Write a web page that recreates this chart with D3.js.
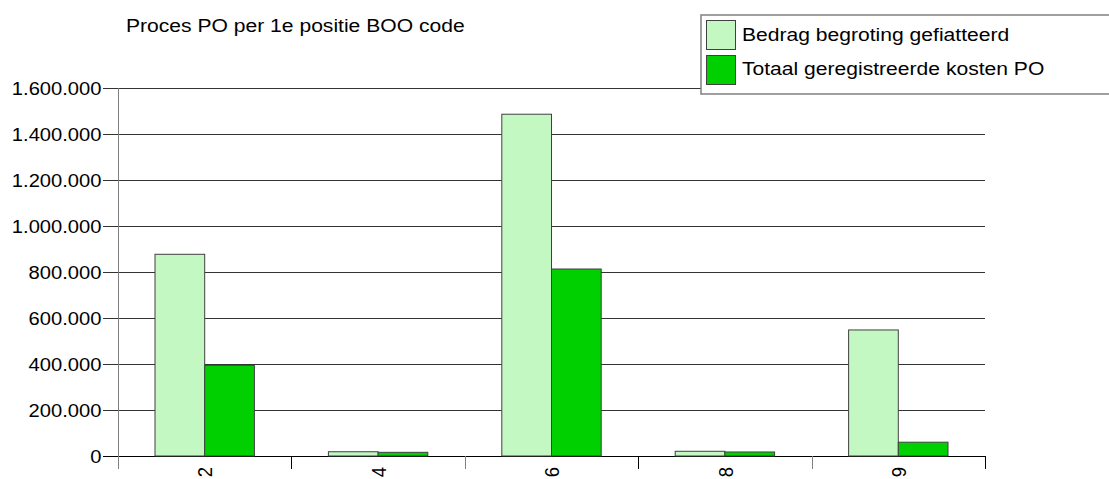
<!DOCTYPE html>
<html><head><meta charset="utf-8">
<script src="https://cdn.jsdelivr.net/npm/d3@7"></script>
<style>html,body{margin:0;padding:0;background:#fff;overflow:hidden}svg{display:block}text{font-family:"Liberation Sans",Arial,sans-serif;fill:#000}</style>
</head><body><svg id="c" width="1109" height="479"></svg>
<script>
const categories = ["2", "4", "6", "8", "9"];
const seriesNames = ["Bedrag begroting gefiatteerd", "Totaal geregistreerde kosten PO"];
const budget = [877000, 18500, 1486000, 20500, 548000];
const costs = [394000, 16000, 813000, 17500, 60000];
const yTicks = [0, 200000, 400000, 600000, 800000, 1000000, 1200000, 1400000, 1600000];
const tickLabels = ["0", "200.000", "400.000", "600.000", "800.000", "1.000.000", "1.200.000", "1.400.000", "1.600.000"];
const title = "Proces PO per 1e positie BOO code";
const colors = ["#c3f8c3", "#00d000"];

(function () {
const FS = 18.5, SX = 1.09;
const svg = d3.select("#c");
const pLeft = 118, pRight = 985, pTop = 88, pBottom = 456;
const x = d3.scaleBand().domain(categories).range([pLeft, pRight]).padding(0);
const y = d3.scaleLinear().domain([0, 1600000]).range([pBottom, pTop]);

// title
svg.append("text").attr("transform", `translate(126,32) scale(1.14,1)`).attr("font-size", FS).text(title);

// gridlines + y ticks
svg.append("g").selectAll("line").data(yTicks).join("line")
  .attr("x1", 103).attr("x2", pRight).attr("y1", d => Math.round(y(d)) + 0.5).attr("y2", d => Math.round(y(d)) + 0.5)
  .attr("stroke", d => d === 0 ? "#000" : "#333").attr("stroke-width", 1);
svg.append("g").selectAll("text").data(yTicks).join("text")
  .attr("transform", (d) => `translate(101.5,${y(d)}) scale(${SX},1)`)
  .attr("text-anchor", "end").attr("dy", "0.36em").attr("font-size", FS)
  .text((d, i) => tickLabels[i]);

// y axis line
svg.append("line").attr("x1", pLeft + 0.5).attr("x2", pLeft + 0.5).attr("y1", pTop).attr("y2", 469).attr("stroke", "#808080").attr("stroke-width", 1);
// x category ticks
const bounds = categories.map(c => x(c) + x.bandwidth());
svg.append("g").selectAll("line").data(bounds).join("line")
  .attr("x1", d => Math.round(d) + 0.5).attr("x2", d => Math.round(d) + 0.5).attr("y1", pBottom).attr("y2", 469)
  .attr("stroke", (d, i) => i % 2 === 0 ? "#000" : "#808080").attr("stroke-width", 1);

// bars
const bw = x.bandwidth() * 0.2866;
const data = categories.map((c, i) => ({c, v: [budget[i], costs[i]]}));
const g = svg.append("g");
data.forEach(d => {
  const cx = x(d.c) + x.bandwidth() / 2;
  d.v.forEach((v, s) => {
    g.append("rect")
      .attr("x", cx - bw + s * bw).attr("y", y(v)).attr("width", bw).attr("height", pBottom - y(v))
      .attr("fill", colors[s]).attr("stroke", "#404040").attr("stroke-width", 1);
  });
});

// x labels
svg.append("g").selectAll("text").data(categories).join("text")
  .attr("transform", d => `translate(${x(d) + x.bandwidth() / 2},467) scale(1.14,1) rotate(-90)`)
  .attr("text-anchor", "end").attr("dy", "0.36em").attr("font-size", FS).text(d => d);

// legend
const lg = svg.append("g");
lg.append("rect").attr("x", 701).attr("y", 15).attr("width", 420).attr("height", 79)
  .attr("fill", "#fff").attr("stroke", "#808080").attr("stroke-width", 1.5);
seriesNames.forEach((n, i) => {
  lg.append("rect").attr("x", 706.5).attr("y", 20.5 + i * 35).attr("width", 29).attr("height", 29)
    .attr("fill", colors[i]).attr("stroke", "#404040").attr("stroke-width", 1);
  lg.append("text").attr("transform", `translate(742,${41 + i * 34}) scale(1.14,1)`).attr("font-size", FS).text(n);
});
})();
</script></body></html>
